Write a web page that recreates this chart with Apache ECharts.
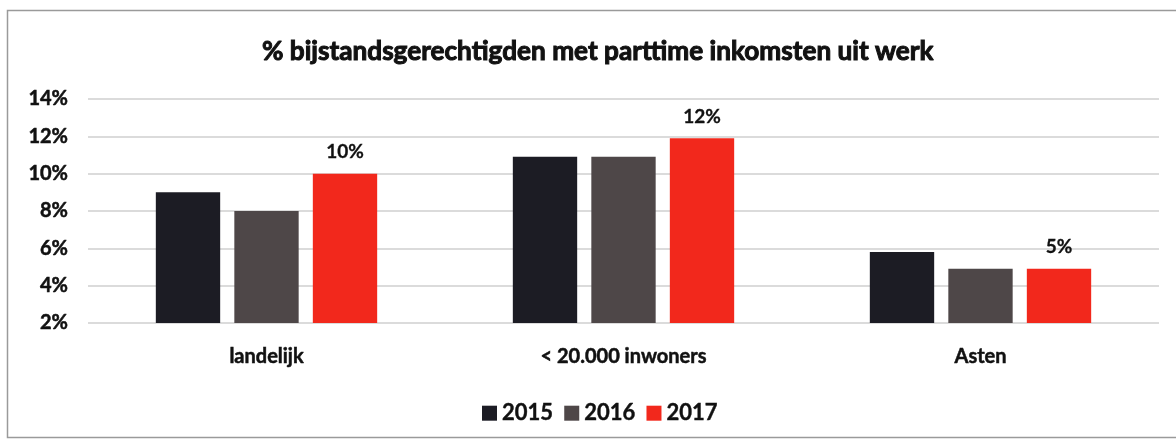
<!DOCTYPE html>
<html>
<head>
<meta charset="utf-8">
<script src="https://cdn.jsdelivr.net/npm/echarts@6/dist/echarts.min.js"></script>
<style>
html,body{margin:0;padding:0;background:#fff;}
#c{width:1176px;height:441px;}
</style>
</head>
<body>
<div id="c"></div>
<script>
const categories = ['landelijk', '< 20.000 inwoners', 'Asten'];
const seriesNames = ['2015', '2016', '2017'];
const values2015 = [9, 10.9, 5.8];
const values2016 = [8, 10.9, 4.9];
const values2017 = [10, 11.9, 4.9];
const yTicks = [2, 4, 6, 8, 10, 12, 14];
const titleText = '% bijstandsgerechtigden met parttime inkomsten uit werk';

const colors = ['#1c1c24', '#4e4748', '#f2281c'];
const FONT = 'Lato, "Open Sans", sans-serif';
const INK = '#111';
const heavy = w => ({textBorderColor: INK, textBorderWidth: w});

const chart = echarts.init(document.getElementById('c'));
const allData = [values2015, values2016, values2017];
chart.setOption({
  animation: false,
  backgroundColor: '#fff',
  title: {
    text: titleText,
    left: 257,
    top: 34,
    textStyle: Object.assign({fontFamily: FONT, fontWeight: 'bold', fontSize: 26.2, color: INK}, heavy(1))
  },
  legend: {
    data: seriesNames,
    top: 397,
    left: 477,
    itemWidth: 15,
    itemHeight: 15,
    itemGap: 11,
    icon: 'rect',
    textStyle: Object.assign({fontFamily: FONT, fontWeight: 'bold', fontSize: 22, color: INK}, heavy(0.4))
  },
  grid: {left: 88, right: 17, top: 99, bottom: 118},
  xAxis: {
    type: 'category',
    data: categories,
    axisLine: {show: false},
    axisTick: {show: false},
    axisLabel: Object.assign({fontFamily: FONT, fontWeight: 'bold', fontSize: 20, color: INK, margin: 24}, heavy(0.5))
  },
  yAxis: {
    type: 'value',
    min: yTicks[0],
    max: yTicks[yTicks.length - 1],
    interval: 2,
    axisLine: {show: false},
    axisTick: {show: false},
    splitLine: {lineStyle: {color: '#cfcfcf', width: 1.5}},
    axisLabel: Object.assign({fontFamily: FONT, fontWeight: 'bold', fontSize: 20, color: INK, margin: 20,
      formatter: v => v + '%'}, heavy(0.5))
  },
  series: seriesNames.map((n, i) => ({
    name: n,
    type: 'bar',
    data: allData[i],
    itemStyle: {color: colors[i]},
    barGap: '22%',
    barCategoryGap: '38%',
    label: i === 2 ? Object.assign({
      show: true, position: 'top', distance: 12,
      fontFamily: FONT, fontWeight: 'bold', fontSize: 19, color: INK,
      formatter: p => Math.round(p.value) + '%'
    }, heavy(0.3)) : {show: false}
  })),
  graphic: [{
    type: 'rect',
    shape: {x: 7.5, y: 10.5, width: 1180, height: 427},
    style: {fill: 'none', stroke: '#9a9a9a', lineWidth: 1.5},
    silent: true
  }]
});
</script>
</body>
</html>
